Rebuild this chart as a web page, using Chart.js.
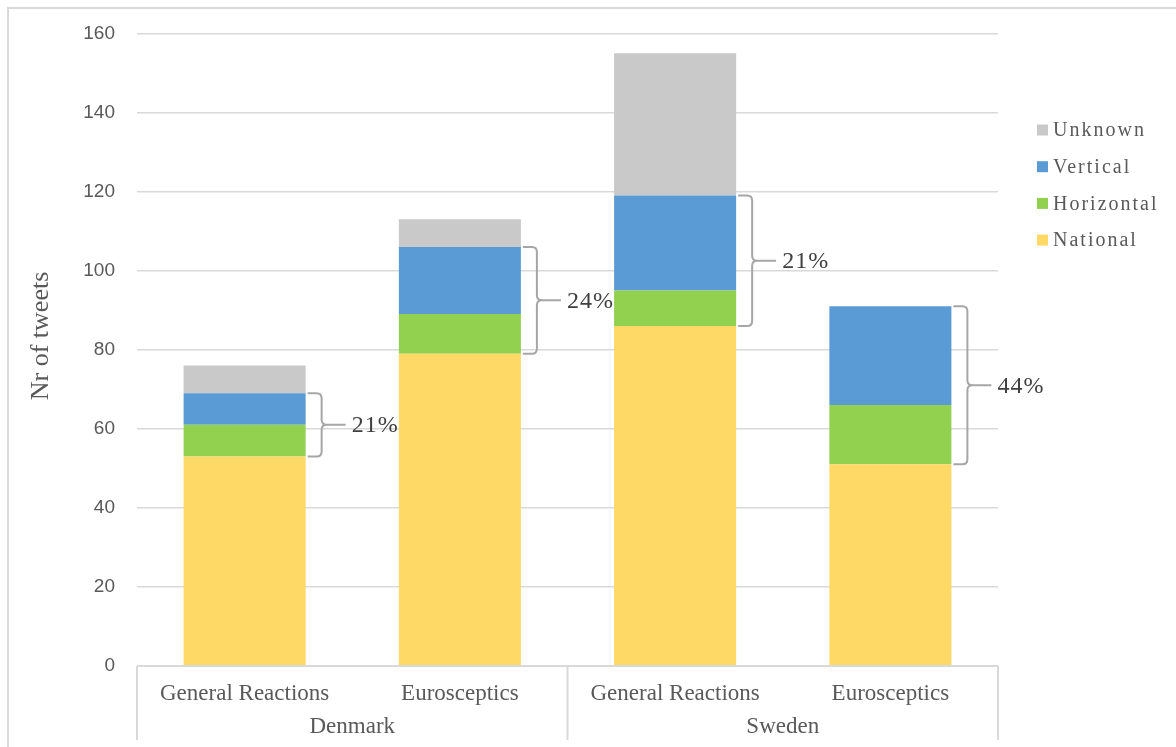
<!DOCTYPE html>
<html>
<head>
<meta charset="utf-8">
<script src="https://cdn.jsdelivr.net/npm/chart.js@4/dist/chart.umd.min.js"></script>
<style>
  html, body { margin: 0; padding: 0; background: #fff; }
  #wrap { width: 1176px; height: 747px; position: relative; }
</style>
</head>
<body>
<div id="wrap"><canvas id="chart"></canvas></div>
<script>
const categories = ['General Reactions', 'Eurosceptics', 'General Reactions', 'Eurosceptics']
const countries = ['Denmark', 'Sweden']
const national = [53, 79, 86, 51]
const horizontal = [8, 10, 9, 15]
const vertical = [8, 17, 24, 25]
const unknown = [7, 7, 36, 0]
const shareLabels = ['21%', '24%', '21%', '44%']
const yTicks = [0, 20, 40, 60, 80, 100, 120, 140, 160]

const SERIF = '"Liberation Serif", "Times New Roman", serif'
const GREY_TEXT = '#595959'
const LINE = '#d9d9d9'

// frame, grouped category axis, braces with percentages, legend, axis title
const decorations = {
  id: 'decorations',
  afterDraw(chart) {
    const { ctx, chartArea: area, scales: { y } } = chart
    ctx.save()

    // outer frame (top + left only, the rest is cropped)
    ctx.strokeStyle = LINE
    ctx.lineWidth = 2
    ctx.beginPath()
    ctx.moveTo(1176, 8); ctx.lineTo(8, 8); ctx.lineTo(8, 747)
    ctx.stroke()

    // category axis line and group separators
    ctx.beginPath()
    ctx.moveTo(area.left, area.bottom); ctx.lineTo(area.right, area.bottom)
    const perGroup = categories.length / countries.length
    const step = (area.right - area.left) / categories.length
    for (let g = 0; g <= countries.length; g++) {
      const gx = area.left + g * perGroup * step
      ctx.moveTo(gx, area.bottom); ctx.lineTo(gx, 740)
    }
    ctx.stroke()

    ctx.fillStyle = GREY_TEXT
    ctx.font = '23px ' + SERIF
    ctx.textAlign = 'center'
    ctx.textBaseline = 'middle'
    countries.forEach((c, g) => {
      const cx = area.left + (g + 0.5) * perGroup * step
      ctx.fillText(c, cx, 727)
    })

    // braces from top of National to top of Vertical
    const meta = chart.getDatasetMeta(0)
    ctx.strokeStyle = '#a6a6a6'
    ctx.lineWidth = 2
    ctx.font = '24px ' + SERIF
    ctx.textAlign = 'left'
    ctx.letterSpacing = '1px'
    meta.data.forEach((bar, i) => {
      const right = bar.x + bar.width / 2
      const yBot = y.getPixelForValue(national[i])
      const yTop = y.getPixelForValue(national[i] + horizontal[i] + vertical[i])
      const mid = (yTop + yBot) / 2
      const x0 = right + 2
      const xv = right + 16
      const r = 5
      ctx.beginPath()
      ctx.moveTo(x0, yTop)
      ctx.lineTo(xv - r, yTop)
      ctx.quadraticCurveTo(xv, yTop, xv, yTop + r)
      ctx.lineTo(xv, mid - r)
      ctx.quadraticCurveTo(xv, mid, xv + r, mid)
      ctx.lineTo(right + 40, mid)
      ctx.moveTo(xv + r, mid)
      ctx.quadraticCurveTo(xv, mid, xv, mid + r)
      ctx.lineTo(xv, yBot - r)
      ctx.quadraticCurveTo(xv, yBot, xv - r, yBot)
      ctx.lineTo(x0, yBot)
      ctx.stroke()
      ctx.fillStyle = '#404040'
      ctx.fillText(shareLabels[i], right + 46, mid + 1)
    })

    // legend, reversed like the stack
    ctx.font = '20px ' + SERIF
    ctx.letterSpacing = '2px'
    const items = chart.data.datasets.slice().reverse()
    items.forEach((ds, k) => {
      const cy = 130 + k * 36.7
      ctx.fillStyle = ds.backgroundColor
      ctx.fillRect(1037, cy - 5.5, 11, 11)
      ctx.fillStyle = GREY_TEXT
      ctx.fillText(ds.label, 1053, cy + 1)
    })
    ctx.letterSpacing = '0px'

    // y axis title
    ctx.translate(41, 336)
    ctx.rotate(-Math.PI / 2)
    ctx.textAlign = 'center'
    ctx.font = '26px ' + SERIF
    ctx.fillStyle = GREY_TEXT
    ctx.fillText('Nr of tweets', 0, 0)

    ctx.restore()
  }
}

new Chart(document.getElementById('chart'), {
  type: 'bar',
  data: {
    labels: categories,
    datasets: [
      { label: 'National', data: national, backgroundColor: '#ffd966' },
      { label: 'Horizontal', data: horizontal, backgroundColor: '#92d050' },
      { label: 'Vertical', data: vertical, backgroundColor: '#5b9bd5' },
      { label: 'Unknown', data: unknown, backgroundColor: '#c9c9c9' },
    ],
  },
  options: {
    responsive: true,
    maintainAspectRatio: false,
    animation: false,
    layout: { padding: { left: 0, right: 178, top: 33, bottom: 0 } },
    datasets: { bar: { categoryPercentage: 1, barPercentage: 0.567 } },
    scales: {
      x: {
        stacked: true,
        grid: { display: false },
        border: { display: false },
        ticks: {
          autoSkip: false, maxRotation: 0, padding: 6,
          color: GREY_TEXT, font: { family: SERIF, size: 23 },
        },
        afterFit: s => { s.height = 81 },
      },
      y: {
        stacked: true,
        min: 0, max: 160,
        afterBuildTicks: s => { s.ticks = yTicks.map(v => ({ value: v })) },
        grid: { color: LINE, lineWidth: 1.5, drawTicks: false },
        border: { display: false },
        ticks: {
          padding: 22, color: GREY_TEXT,
          font: { family: '"Liberation Sans", Arial, sans-serif', size: 19 },
        },
        afterFit: s => { s.width = 137 },
      },
    },
    plugins: { legend: { display: false }, tooltip: { enabled: false } },
  },
  plugins: [decorations],
})
</script>
</body>
</html>
